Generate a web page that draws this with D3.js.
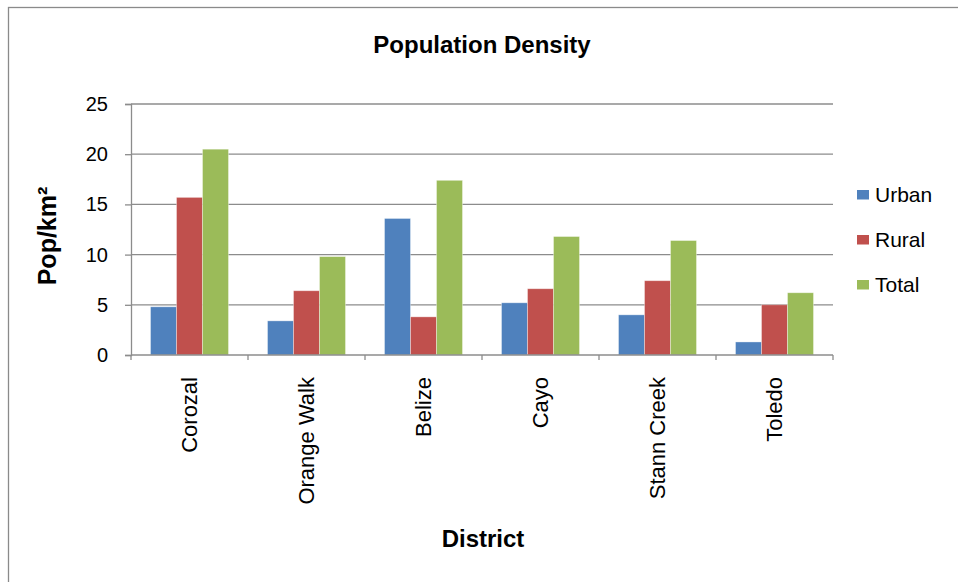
<!DOCTYPE html>
<html>
<head>
<meta charset="utf-8">
<script src="https://cdn.jsdelivr.net/npm/d3@7"></script>
<style>
  html, body { margin: 0; padding: 0; background: #fff; }
  svg { display: block; font-family: "Liberation Sans", Arial, sans-serif; }
</style>
</head>
<body>
<svg id="chart" width="958" height="582"></svg>
<script>
// Districts and population density (people per km²) by settlement type
const districts = ["Corozal", "Orange Walk", "Belize", "Cayo", "Stann Creek", "Toledo"];
const seriesNames = ["Urban", "Rural", "Total"];
const urban = [4.8, 3.4, 13.6, 5.2, 4.0, 1.3];
const rural = [15.7, 6.4, 3.8, 6.6, 7.4, 5.0];
const total = [20.5, 9.8, 17.4, 11.8, 11.4, 6.2];
const yTicks = [0, 5, 10, 15, 20, 25];
const seriesColors = ["#4F81BD", "#C0504D", "#9BBB59"];

const seriesValues = [urban, rural, total];
const rows = districts.map((d, i) => ({
  district: d,
  values: seriesNames.map((s, k) => ({ series: s, value: seriesValues[k][i] }))
}));

const svg = d3.select("#chart");

// chart frame
svg.append("rect")
  .attr("x", 8.5).attr("y", 7.5)
  .attr("width", 1200).attr("height", 1200)
  .attr("fill", "none").attr("stroke", "#8a8a8a").attr("stroke-width", 1.3);

const plot = { left: 131, right: 833, top: 104, bottom: 355 };

const x = d3.scaleBand().domain(districts).range([plot.left, plot.right]).padding(0);
const bw = x.bandwidth();
const xInner = d3.scaleBand().domain(seriesNames)
  .range([bw / 6, bw - bw / 6]).padding(0);
const y = d3.scaleLinear().domain([0, 25]).range([plot.bottom, plot.top]);
const color = d3.scaleOrdinal().domain(seriesNames).range(seriesColors);

// horizontal gridlines
svg.append("g")
  .selectAll("line")
  .data(yTicks.filter(t => t > 0))
  .join("line")
  .attr("x1", plot.left).attr("x2", plot.right)
  .attr("y1", d => y(d)).attr("y2", d => y(d))
  .attr("stroke", "#8c8c8c").attr("stroke-width", 1.3);

// y axis
const yAxis = svg.append("g")
  .attr("transform", `translate(${plot.left},0)`)
  .call(d3.axisLeft(y).tickValues(yTicks).tickSize(6).tickPadding(17));
yAxis.select(".domain").attr("stroke", "#8c8c8c").attr("stroke-width", 1.3);
yAxis.selectAll(".tick line").attr("stroke", "#8c8c8c").attr("stroke-width", 1.3);
yAxis.selectAll(".tick text")
  .attr("fill", "#000").attr("font-size", 20)
  .attr("font-family", "Liberation Sans, Arial, sans-serif");

// bars
const groups = svg.append("g")
  .selectAll("g")
  .data(rows)
  .join("g")
  .attr("transform", d => `translate(${x(d.district)},0)`);

groups.selectAll("rect")
  .data(d => d.values)
  .join("rect")
  .attr("x", d => xInner(d.series))
  .attr("width", xInner.bandwidth())
  .attr("y", d => y(d.value))
  .attr("height", d => y(0) - y(d.value))
  .attr("fill", d => color(d.series))
  .attr("stroke", "rgba(255,255,255,0.45)")
  .attr("stroke-width", 0.8);

// x axis with ticks at category boundaries
const xAxisG = svg.append("g").attr("transform", `translate(0,${plot.bottom})`);
xAxisG.append("line")
  .attr("x1", plot.left).attr("x2", plot.right)
  .attr("y1", 0).attr("y2", 0)
  .attr("stroke", "#8c8c8c").attr("stroke-width", 1.3);
xAxisG.selectAll("line.bound")
  .data(districts.map(d => x(d)).concat([plot.right]))
  .join("line")
  .attr("class", "bound")
  .attr("x1", d => d).attr("x2", d => d)
  .attr("y1", 0).attr("y2", 5)
  .attr("stroke", "#8c8c8c").attr("stroke-width", 1.3);

// rotated category labels
xAxisG.selectAll("text")
  .data(districts)
  .join("text")
  .attr("transform", d => `translate(${x(d) + bw / 2 + 7.5},22) rotate(-90)`)
  .attr("text-anchor", "end")
  .attr("font-size", 22)
  .attr("fill", "#000")
  .text(d => d);

// title
svg.append("text")
  .attr("x", 482).attr("y", 53)
  .attr("text-anchor", "middle")
  .attr("font-size", 24).attr("font-weight", "bold")
  .attr("fill", "#000")
  .text("Population Density");

// axis titles
svg.append("text")
  .attr("transform", "translate(56,236) rotate(-90)")
  .attr("text-anchor", "middle")
  .attr("font-size", 25).attr("font-weight", "bold")
  .attr("fill", "#000")
  .text("Pop/km²");

svg.append("text")
  .attr("x", 483).attr("y", 547)
  .attr("text-anchor", "middle")
  .attr("font-size", 24).attr("font-weight", "bold")
  .attr("fill", "#000")
  .text("District");

// legend
const legend = svg.append("g")
  .selectAll("g")
  .data(seriesNames)
  .join("g")
  .attr("transform", (d, i) => `translate(857,${194.5 + i * 45})`);
legend.append("rect")
  .attr("x", 0).attr("y", -4.5)
  .attr("width", 12).attr("height", 9.5)
  .attr("fill", d => color(d));
legend.append("text")
  .attr("x", 18).attr("y", 7.5)
  .attr("font-size", 21)
  .attr("fill", "#000")
  .text(d => d);
</script>
</body>
</html>
